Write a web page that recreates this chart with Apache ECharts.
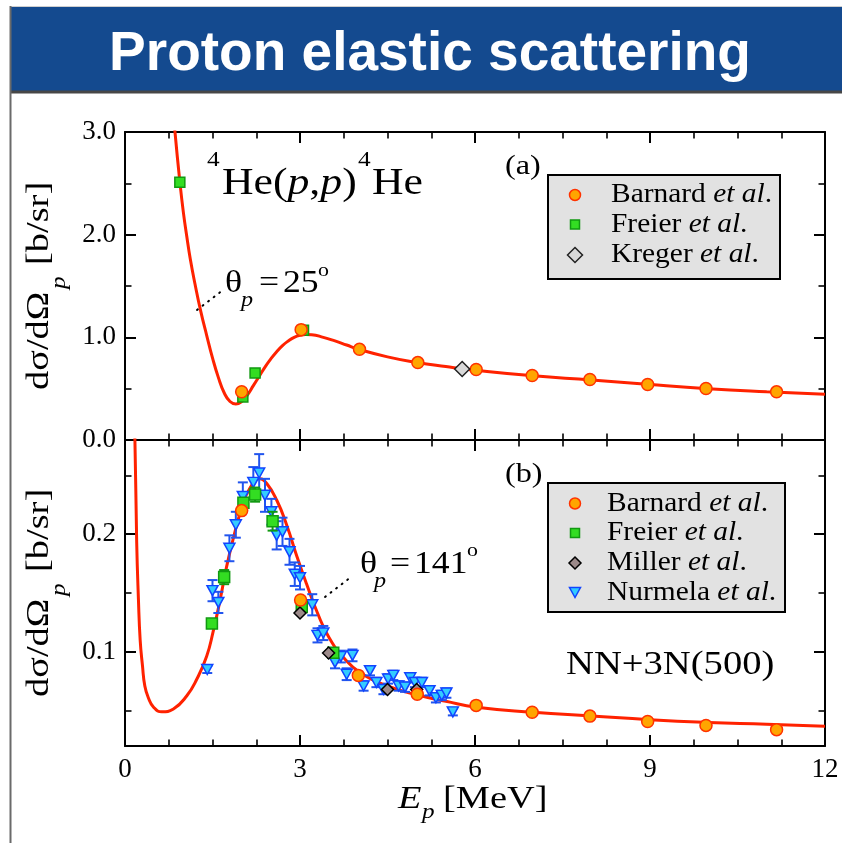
<!DOCTYPE html>
<html>
<head>
<meta charset="utf-8">
<title>Proton elastic scattering</title>
<script src="https://cdn.jsdelivr.net/npm/echarts@6/dist/echarts.min.js"></script>
<style>
  html, body { margin: 0; padding: 0; background: #fff; }
  #chart { width: 842px; height: 843px; }
</style>
</head>
<body>
<div id="chart"></div>
<script>
// ---- data -------------------------------------------------------------
// energy axis ticks (MeV)
const energyTicks = [0, 3, 6, 9, 12];
const panelAYTicks = [0, 1, 2, 3];
const panelBYTicks = [0.1, 0.2];
const panelBYMinorTicks = [0.05, 0.15, 0.25];

// (a) theta_p = 25 deg : NN+3N(500) calculation [E (MeV), b/sr]
const theoryA = [
  [0.80, 3.40], [0.857, 3.0], [0.943, 2.5], [1.0, 2.22], [1.06, 1.98], [1.12, 1.76],
  [1.2, 1.52], [1.3, 1.25], [1.4, 1.02], [1.5, 0.80], [1.6, 0.61], [1.7, 0.46],
  [1.8, 0.375], [1.9, 0.35], [2.0, 0.375], [2.1, 0.44], [2.2, 0.53], [2.3, 0.62],
  [2.4, 0.71], [2.5, 0.79], [2.6, 0.86], [2.7, 0.92], [2.8, 0.965], [2.9, 1.0],
  [3.0, 1.02], [3.1, 1.027], [3.2, 1.025], [3.4, 1.0], [3.6, 0.965], [3.8, 0.925],
  [4.0, 0.885], [4.5, 0.81], [5.0, 0.755], [5.5, 0.715], [6.0, 0.68], [7.0, 0.625],
  [8.0, 0.585], [9.0, 0.54], [10.0, 0.50], [11.0, 0.47], [12.0, 0.445]
];
const barnardA = [[2.0, 0.47], [3.02, 1.075], [4.02, 0.883], [5.02, 0.754], [6.02, 0.686],
  [6.98, 0.628], [7.97, 0.589], [8.96, 0.541], [9.96, 0.502], [11.17, 0.469]];
const freierA = [[0.94, 2.51], [2.02, 0.42], [2.23, 0.653], [3.06, 1.068]];
const kregerA = [[5.78, 0.692]];

// (b) theta_p = 141 deg
const theoryB = [
  [0.14, 0.32], [0.17, 0.28], [0.2, 0.194], [0.23, 0.145], [0.26, 0.11], [0.3, 0.088],
  [0.34, 0.071], [0.4, 0.061], [0.49, 0.053], [0.63, 0.049], [0.83, 0.0515], [1.06, 0.0627],
  [1.23, 0.0767], [1.4, 0.0963], [1.51, 0.117], [1.63, 0.144], [1.74, 0.172], [1.86, 0.197],
  [2.0, 0.222], [2.14, 0.239], [2.31, 0.247], [2.43, 0.243], [2.6, 0.229], [2.77, 0.208],
  [2.94, 0.182], [3.11, 0.158], [3.3, 0.133], [3.5, 0.112], [3.75, 0.095], [4.03, 0.0824],
  [4.5, 0.071], [5.0, 0.0635], [5.5, 0.058], [6.03, 0.053], [7.0, 0.0487], [8.0, 0.0455],
  [9.0, 0.0423], [10.0, 0.040], [11.0, 0.0385], [12.0, 0.0367]
];
const barnardB = [[2.0, 0.220], [3.01, 0.144], [4.0, 0.080], [5.01, 0.064], [6.02, 0.0545],
  [6.98, 0.0487], [7.97, 0.0454], [8.96, 0.0408], [9.96, 0.0375], [11.17, 0.0339]];
const freierB = [[1.49, 0.124], [1.70, 0.1635], [2.03, 0.2266], [2.23, 0.2336], [2.53, 0.211],
  [3.03, 0.138], [3.57, 0.0992]];
const freierBErr = [0.002, 0.006, 0.004, 0.006, 0.008, 0.003, 0.003];
const millerB = [[3.0, 0.133], [3.49, 0.099], [4.5, 0.068], [5.0, 0.068]];
const nurmelaB = [
  [1.41, 0.085], [1.50, 0.152], [1.60, 0.142], [1.79, 0.188], [1.90, 0.208], [2.02, 0.232],
  [2.20, 0.244], [2.30, 0.252], [2.40, 0.233], [2.51, 0.219], [2.60, 0.199], [2.70, 0.202],
  [2.82, 0.185], [2.91, 0.166], [3.00, 0.163], [3.21, 0.140], [3.30, 0.114], [3.40, 0.116],
  [3.60, 0.091], [3.70, 0.096], [3.80, 0.081], [3.90, 0.097], [4.09, 0.071], [4.20, 0.084],
  [4.31, 0.074], [4.43, 0.068], [4.51, 0.077], [4.60, 0.080], [4.69, 0.071], [4.80, 0.070],
  [4.89, 0.078], [4.97, 0.074], [5.09, 0.074], [5.22, 0.067], [5.33, 0.061], [5.43, 0.063],
  [5.51, 0.065], [5.62, 0.049]
];
const nurmelaBErr = [
  0.003, 0.009, 0.009, 0.011, 0.011, 0.012, 0.013, 0.016, 0.014, 0.011, 0.012, 0.012,
  0.011, 0.010, 0.010, 0.009, 0.006, 0.006, 0.005, 0.005, 0.005, 0.005, 0.004, 0.004,
  0.004, 0.004, 0.004, 0.004, 0.004, 0.004, 0.004, 0.004, 0.004, 0.004, 0.004, 0.004,
  0.004, 0.003
];

// ---- styling ----------------------------------------------------------
const SERIF = '"Liberation Serif", "Times New Roman", serif';
const SANS = '"Liberation Sans", Arial, Helvetica, sans-serif';
const RED = '#FF2200';
const STYLE = {
  barnard: { symbol: 'circle', size: 12, color: '#FFA500', border: '#FF3300' },
  freier: { symbol: 'rect', size: 10, color: '#33DD22', border: '#119911' },
  kreger: { symbol: 'diamond', size: 15, color: '#D9D9D9', border: '#222222' },
  miller: { symbol: 'diamond', size: 12, color: '#9C8A8A', border: '#000000' },
  nurmela: { symbol: 'triangle', size: [11, 10], color: '#33CCFF', border: '#1144FF' }
};

function xAxisDef(gridIndex, position, showLabels) {
  return {
    type: 'value', gridIndex, position, min: 0, max: 12, interval: 3,
    axisLine: { show: true, onZero: false, lineStyle: { color: '#000', width: 2 } },
    axisTick: { show: true, inside: true, length: 11, lineStyle: { color: '#000', width: 2 } },
    minorTick: { show: true, splitNumber: 4, length: 6.5, lineStyle: { color: '#000', width: 1.6 } },
    axisLabel: {
      show: showLabels, color: '#000', fontFamily: SERIF, fontSize: 27, margin: 10,
      customValues: energyTicks
    },
    splitLine: { show: false }, minorSplitLine: { show: false }
  };
}

function yAxisA(position, showLabels) {
  return {
    type: 'value', gridIndex: 0, position, min: 0, max: 3, interval: 1,
    axisLine: { show: true, onZero: false, lineStyle: { color: '#000', width: 2 } },
    axisTick: { show: true, inside: true, length: 11, lineStyle: { color: '#000', width: 2 } },
    minorTick: { show: true, splitNumber: 2, length: 6.5, lineStyle: { color: '#000', width: 1.6 } },
    axisLabel: {
      show: showLabels, color: '#000', fontFamily: SERIF, fontSize: 27, margin: 9,
      customValues: panelAYTicks, formatter: v => v.toFixed(1)
    },
    splitLine: { show: false }
  };
}

function yAxisB(position, ticks, len, showLine, showLabels) {
  return {
    type: 'value', gridIndex: 1, position, offset: 0, min: 0.02, max: 0.28,
    axisLine: { show: showLine, onZero: false, lineStyle: { color: '#000', width: 2 } },
    axisTick: { show: true, inside: true, length: len, customValues: ticks,
      lineStyle: { color: '#000', width: len > 8 ? 2 : 1.6 } },
    axisLabel: {
      show: showLabels, color: '#000', fontFamily: SERIF, fontSize: 27, margin: 9,
      customValues: ticks, formatter: v => v.toFixed(1)
    },
    splitLine: { show: false }
  };
}

function scatter(name, data, st, xi, yi, z) {
  return {
    name, type: 'scatter', xAxisIndex: xi, yAxisIndex: yi, data, z,
    symbol: st.symbol, symbolSize: st.size, symbolRotate: st.symbol === 'triangle' ? 180 : 0,
    itemStyle: { color: st.color, borderColor: st.border, borderWidth: 1.5, opacity: 1 },
    emphasis: { disabled: true }
  };
}

function errorBars(name, points, errs, color, xi, yi, z) {
  return {
    name, type: 'custom', xAxisIndex: xi, yAxisIndex: yi, z,
    data: points.map((p, i) => [p[0], p[1] - errs[i], p[1] + errs[i]]),
    encode: { x: 0, y: [1, 2] },
    renderItem(params, api) {
      const top = api.coord([api.value(0), api.value(2)]);
      const bot = api.coord([api.value(0), api.value(1)]);
      const w = 5;
      const st = { stroke: color, lineWidth: 2 };
      return {
        type: 'group', children: [
          { type: 'line', shape: { x1: top[0], y1: top[1], x2: bot[0], y2: bot[1] }, style: st },
          { type: 'line', shape: { x1: top[0] - w, y1: top[1], x2: top[0] + w, y2: top[1] }, style: st },
          { type: 'line', shape: { x1: bot[0] - w, y1: bot[1], x2: bot[0] + w, y2: bot[1] }, style: st }
        ]
      };
    }
  };
}

function theory(data, xi, yi) {
  return {
    type: 'line', xAxisIndex: xi, yAxisIndex: yi, data, z: 2,
    smooth: 0.5, showSymbol: false, clip: true,
    lineStyle: { color: RED, width: 3 }, emphasis: { disabled: true }
  };
}

// ---- annotation helpers -------------------------------------------------
function txt(x, y, text, size, o = {}) {
  return {
    type: 'text', x, y, z: 100,
    scaleX: o.sx === undefined ? 1.18 : o.sx, rotation: o.rot || 0,
    style: {
      text, fill: o.fill || '#000',
      fontFamily: o.family || SERIF, fontSize: size,
      fontStyle: o.italic ? 'italic' : 'normal', fontWeight: o.bold ? 'bold' : 'normal',
      align: o.align || 'left', verticalAlign: 'middle', rich: o.rich
    }
  };
}

function etAl(name, size) {
  return {
    text: '{n|' + name + ' }{i|et al}{n|.}',
    rich: {
      n: { fontFamily: SERIF, fontSize: size, fill: '#000' },
      i: { fontFamily: SERIF, fontSize: size, fontStyle: 'italic', fill: '#000' }
    }
  };
}

function marker(kind, cx, cy) {
  const st = STYLE[kind];
  const style = { fill: st.color, stroke: st.border, lineWidth: 1.5 };
  if (kind === 'barnard') return { type: 'circle', z: 101, shape: { cx, cy, r: 5.5 }, style };
  if (kind === 'freier') return { type: 'rect', z: 101, shape: { x: cx - 4.5, y: cy - 4.5, width: 9, height: 9 }, style };
  if (kind === 'kreger') return { type: 'polygon', z: 101, shape: { points: [[cx, cy - 7.5], [cx + 7.5, cy], [cx, cy + 7.5], [cx - 7.5, cy]] }, style };
  if (kind === 'miller') return { type: 'polygon', z: 101, shape: { points: [[cx, cy - 6], [cx + 6, cy], [cx, cy + 6], [cx - 6, cy]] }, style };
  return { type: 'polygon', z: 101, shape: { points: [[cx - 5.5, cy - 5], [cx + 5.5, cy - 5], [cx, cy + 5]] }, style };
}

function legendBox(x, y, w, h, rows, textX) {
  const els = [{ type: 'rect', z: 99, shape: { x, y, width: w, height: h },
    style: { fill: '#E2E2E2', stroke: '#000', lineWidth: 2 } }];
  rows.forEach(r => {
    els.push(marker(r.kind, x + 27, r.y));
    const t = etAl(r.label, 27);
    els.push(txt(textX, r.y, t.text, 27, { rich: t.rich, sx: 1.09 }));
  });
  return els;
}

function thetaLabel(x, y, subX, subY, eqX, valX, value, degX, degY) {
  return [
    txt(x, y, 'θ', 31, { sx: 1.15 }),
    txt(subX, subY, 'p', 21, { italic: true, sx: 1.15 }),
    txt(eqX, y, '=', 31, { sx: 1.15 }),
    txt(valX, y, value, 31, { sx: 1.15 }),
    txt(degX, degY, 'o', 19, { sx: 1.15 })
  ];
}

function yTitle(baseY) {
  return [
    txt(40, baseY, 'dσ/dΩ', 32, { rot: Math.PI / 2, sx: 1.2 }),
    txt(59, baseY - 101, 'p', 21, { rot: Math.PI / 2, italic: true, sx: 1.2 }),
    txt(40, baseY - 125, '[b/sr]', 32, { rot: Math.PI / 2, sx: 1.2 })
  ];
}

// ---- page frame and annotations ------------------------------------------
const graphic = [
  { type: 'line', z: 1, shape: { x1: 10, y1: 6.5, x2: 842, y2: 6.5 }, style: { stroke: '#CFCFCF', lineWidth: 1 } },
  { type: 'rect', z: 1, shape: { x: 10.5, y: 7, width: 832, height: 84 }, style: { fill: '#144A8F' } },
  { type: 'line', z: 2, shape: { x1: 10, y1: 92, x2: 842, y2: 92 }, style: { stroke: '#474747', lineWidth: 3 } },
  { type: 'line', z: 2, shape: { x1: 10.5, y1: 6, x2: 10.5, y2: 843 }, style: { stroke: '#6A6A6A', lineWidth: 2 } },
  txt(430, 55, 'Proton elastic scattering', 55, { family: SANS, bold: true, fill: '#FFFFFF', align: 'center', sx: 1 }),

  // panel (a)
  txt(207, 160, '4', 22, { sx: 1.15 }),
  txt(222, 184, '{n|He(}{i|p}{n|,}{i|p}{n|)}', 38, { sx: 1.15, rich: {
    n: { fontFamily: SERIF, fontSize: 38, fill: '#000' },
    i: { fontFamily: SERIF, fontSize: 38, fontStyle: 'italic', fill: '#000' } } }),
  txt(358, 160, '4', 22, { sx: 1.15 }),
  txt(372, 184, 'He', 38, { sx: 1.15 }),
  txt(505, 167, '(a)', 28, { sx: 1.15 }),
  ...thetaLabel(225, 284, 241, 300, 259, 283, '25', 318, 271),
  { type: 'line', z: 100, shape: { x1: 197, y1: 310, x2: 223, y2: 290 },
    style: { stroke: '#000', lineWidth: 2, lineDash: [1, 6], lineCap: 'round' } },
  ...legendBox(548, 175, 232, 104, [
    { kind: 'barnard', label: 'Barnard', y: 195 },
    { kind: 'freier', label: 'Freier', y: 224.5 },
    { kind: 'kreger', label: 'Kreger', y: 255 }
  ], 611),

  // panel (b)
  txt(505, 475, '(b)', 28, { sx: 1.15 }),
  ...thetaLabel(360, 565, 374, 581, 390, 414, '141', 467, 551),
  { type: 'line', z: 100, shape: { x1: 325, y1: 597, x2: 351, y2: 577 },
    style: { stroke: '#000', lineWidth: 2, lineDash: [1, 6], lineCap: 'round' } },
  ...legendBox(548, 483, 237, 129, [
    { kind: 'barnard', label: 'Barnard', y: 503.5 },
    { kind: 'freier', label: 'Freier', y: 533 },
    { kind: 'miller', label: 'Miller', y: 563 },
    { kind: 'nurmela', label: 'Nurmela', y: 592.5 }
  ], 607),
  txt(566, 665, 'NN+3N(500)', 33, { sx: 1.17 }),

  // axis titles
  ...yTitle(390),
  ...yTitle(697),
  txt(398, 800, 'E', 32, { italic: true, sx: 1.2 }),
  txt(422, 812, 'p', 21, { italic: true, sx: 1.2 }),
  txt(443, 800, '[MeV]', 32, { sx: 1.2 })
];

// ---- chart --------------------------------------------------------------
const chart = echarts.init(document.getElementById('chart'), null, { renderer: 'canvas' });
chart.setOption({
  animation: false,
  backgroundColor: '#FFFFFF',
  grid: [
    { left: 125, top: 132, width: 700, height: 308 },
    { left: 125, top: 440, width: 700, height: 306 }
  ],
  xAxis: [
    xAxisDef(0, 'bottom', false),
    xAxisDef(0, 'top', false),
    xAxisDef(1, 'bottom', true),
    xAxisDef(1, 'top', false)
  ],
  yAxis: [
    yAxisA('left', true),
    yAxisA('right', false),
    yAxisB('left', panelBYTicks, 11, true, true),
    yAxisB('left', panelBYMinorTicks, 6.5, false, false),
    yAxisB('right', panelBYTicks, 11, true, false),
    yAxisB('right', panelBYMinorTicks, 6.5, false, false)
  ],
  series: [
    theory(theoryA, 0, 0),
    scatter('Freier et al.', freierA, STYLE.freier, 0, 0, 5),
    scatter('Barnard et al.', barnardA, STYLE.barnard, 0, 0, 6),
    scatter('Kreger et al.', kregerA, STYLE.kreger, 0, 0, 7),

    theory(theoryB, 2, 2),
    errorBars('Nurmela et al. errors', nurmelaB, nurmelaBErr, '#2255EE', 2, 2, 3),
    scatter('Nurmela et al.', nurmelaB, STYLE.nurmela, 2, 2, 4),
    errorBars('Freier et al. errors', freierB, freierBErr, '#119911', 2, 2, 5),
    scatter('Freier et al.', freierB, Object.assign({}, STYLE.freier, { size: 11 }), 2, 2, 5),
    scatter('Miller et al.', millerB, STYLE.miller, 2, 2, 6),
    scatter('Barnard et al.', barnardB, STYLE.barnard, 2, 2, 7)
  ],
  graphic
});
</script>
</body>
</html>
